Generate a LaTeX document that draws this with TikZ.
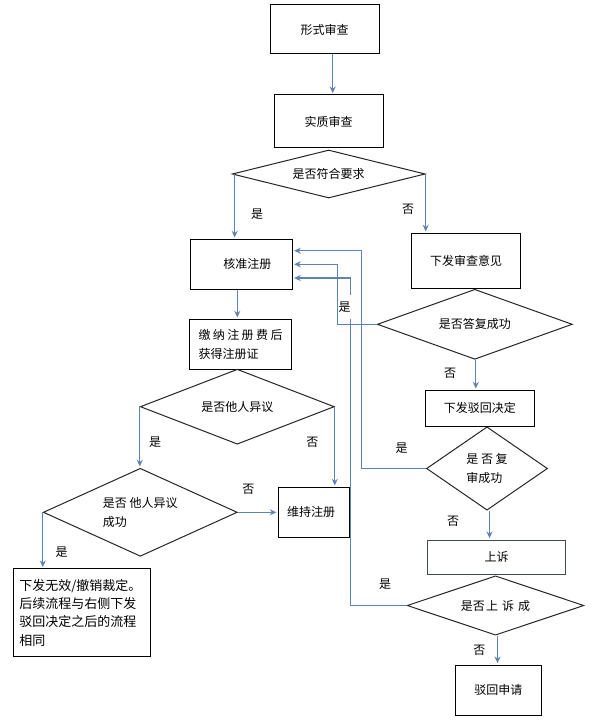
\documentclass[tikz,border=0pt]{standalone}
\usepackage{fontspec}
\setmainfont{Noto Sans CJK SC}
\usetikzlibrary{shapes.geometric,calc,arrows.meta}
\definecolor{lineblue}{RGB}{96,130,178}
\definecolor{slate}{RGB}{62,74,86}
\begin{document}
\begin{tikzpicture}[x=0.75pt,y=-0.75pt,
  font=\fontsize{9pt}{11pt}\selectfont,
  box/.style={draw=black, line width=0.75pt, rectangle, inner sep=0pt, align=center},
  dia/.style={draw=black!85, line width=0.75pt, diamond, inner sep=0pt, align=left},
  arr/.style={draw=lineblue, line width=0.85pt, -{Stealth[length=5pt,width=4.5pt]}, shorten >=1pt},
  lab/.style={inner sep=1pt}]
\useasboundingbox[fill=white] (0,0) rectangle (599,720);

% boxes
\node[box, minimum width=81.75pt, minimum height=36.75pt] (xs) at (324.5,29.5) {形式审查};
\node[box, minimum width=81.75pt, minimum height=39.75pt] (sz) at (328.5,121.5) {实质审查};
\node[dia, aspect=4.02, minimum width=144.75pt, minimum height=36pt] (d1) at (328.7,174) {是否符合要求};
\node[box, minimum width=76.5pt, minimum height=37.5pt] (hz) at (241.3,264.3) {\hspace*{9pt}核准注册};
\node[box, minimum width=76.8pt, minimum height=37.5pt, align=left, font=\fontsize{9pt}{14pt}\selectfont] (jn) at (240.5,344.3)
  {缴\hspace{1.8pt}纳\hspace{1.8pt}注\hspace{1.8pt}册\hspace{1.8pt}费\hspace{1.8pt}后\\获得注册证};
\node[dia, aspect=2.59, minimum width=145.5pt, minimum height=56.25pt] (d2) at (237.3,406.7) {是否他人异议};
\node[dia, aspect=2.2, minimum width=145.5pt, minimum height=66pt, font=\fontsize{9pt}{14pt}\selectfont] (d3) at (140.3,512.3) {是否 他人异议\\成功};
\node[box, minimum width=53.25pt, minimum height=37.5pt] (wc) at (313.8,512.3) {维持注册\hspace*{4pt}};
\node[box, minimum height=65.8pt, inner xsep=4.5pt, text width=94pt, align=left,
  font=\fontsize{9.75pt}{13.7pt}\selectfont] (xf) at (82,612.8)
  {下发无效/撤销裁定。\\后续流程与右侧下发\\驳回决定之后的流程\\相同};
\node[box, minimum width=81.5pt, minimum height=41.25pt] (sc) at (466,260.8) {下发审查意见};
\node[dia, aspect=2.79, minimum width=146.25pt, minimum height=52.5pt] (d4) at (474.8,324.3) {是否答复成功};
\node[box, minimum width=81.75pt, minimum height=26.8pt] (bh) at (479.8,408.2) {下发驳回决定};
\node[dia, aspect=1.45, minimum width=90.75pt, minimum height=62.5pt, font=\fontsize{9pt}{14pt}\selectfont] (d5) at (487,468.5) {是 否 复\\审成功};
\node[box, draw=slate, minimum width=103.8pt, minimum height=25.5pt] (ss) at (496.5,557) {上诉};
\node[dia, aspect=2.98, minimum width=132.5pt, minimum height=44.5pt] (d6) at (495.5,605.5)
  {是否\hspace{1pt}上\hspace{3pt}诉\hspace{3pt}成};
\node[box, minimum width=64.5pt, minimum height=37.5pt] (bs) at (498.3,690) {驳回申请};

% helper coordinates
\coordinate (p0) at ($(xs.south)+(8.2,0)$);
\coordinate (p1) at ($(d1.west)+(3,0)$);
\coordinate (p2) at ($(hz.south)+(-4,0)$);
\coordinate (p3) at ($(d4.south)+(1,0)$);
\coordinate (p4) at ($(d5.south)+(2.5,0)$);
\coordinate (p5) at ($(d6.south)+(2,0)$);
\coordinate (hzA) at ($(hz.east)+(0,-13.6)$);
\coordinate (hzC) at ($(hz.east)+(0,13.7)$);

% connectors
\draw[arr] (p0) -- (p0 |- sz.north);
\draw[arr] (p1) -- (p1 |- hz.north);
\draw[arr] (d1.east) -- (d1.east |- sc.north);
\draw[arr] (p2) -- (p2 |- jn.north);
\draw[arr] (d2.west) -- (d2.west |- d3.north);
\draw[arr] (d2.east) -- (d2.east |- wc.north);
\draw[arr] (d3.east) -- (wc.west);
\draw[arr] (d3.west) -- (d3.west |- xf.north);
\draw[arr] (p3) -- (p3 |- bh.north);
\draw[arr] (p4) -- (p4 |- ss.north);
\draw[arr] (p5) -- (p5 |- bs.north);
\draw[arr] (d4.west) -| ($(hz.east)+(44.4,0)$) -- (hz.east);
\draw[arr] (d5.west) -| ($(hzA)+(68.4,0)$) -- (hzA);
\draw[arr] (d6.west) -| ($(hzC)+(57.7,0)$) -- (hzC);

% labels
\node[lab] (l1) at (257,214) {是};
\node[lab] (l2) at (408,209) {否};
\node[lab, fill=white, inner xsep=0.3pt, inner ysep=5pt] (l3) at (344.5,307) {是};
\node[lab] (l4) at (450,373.3) {否};
\node[lab] (l5) at (155,441.7) {是};
\node[lab] (l6) at (312.3,442.7) {否};
\node[lab] (l7) at (401.7,448.3) {是};
\node[lab] (l8) at (248.3,489.3) {否};
\node[lab] (l9) at (453,521.7) {否};
\node[lab] (l10) at (61.7,551.7) {是};
\node[lab] (l11) at (385,584) {是};
\node[lab] (l12) at (479.3,650) {否};
\end{tikzpicture}
\end{document}
